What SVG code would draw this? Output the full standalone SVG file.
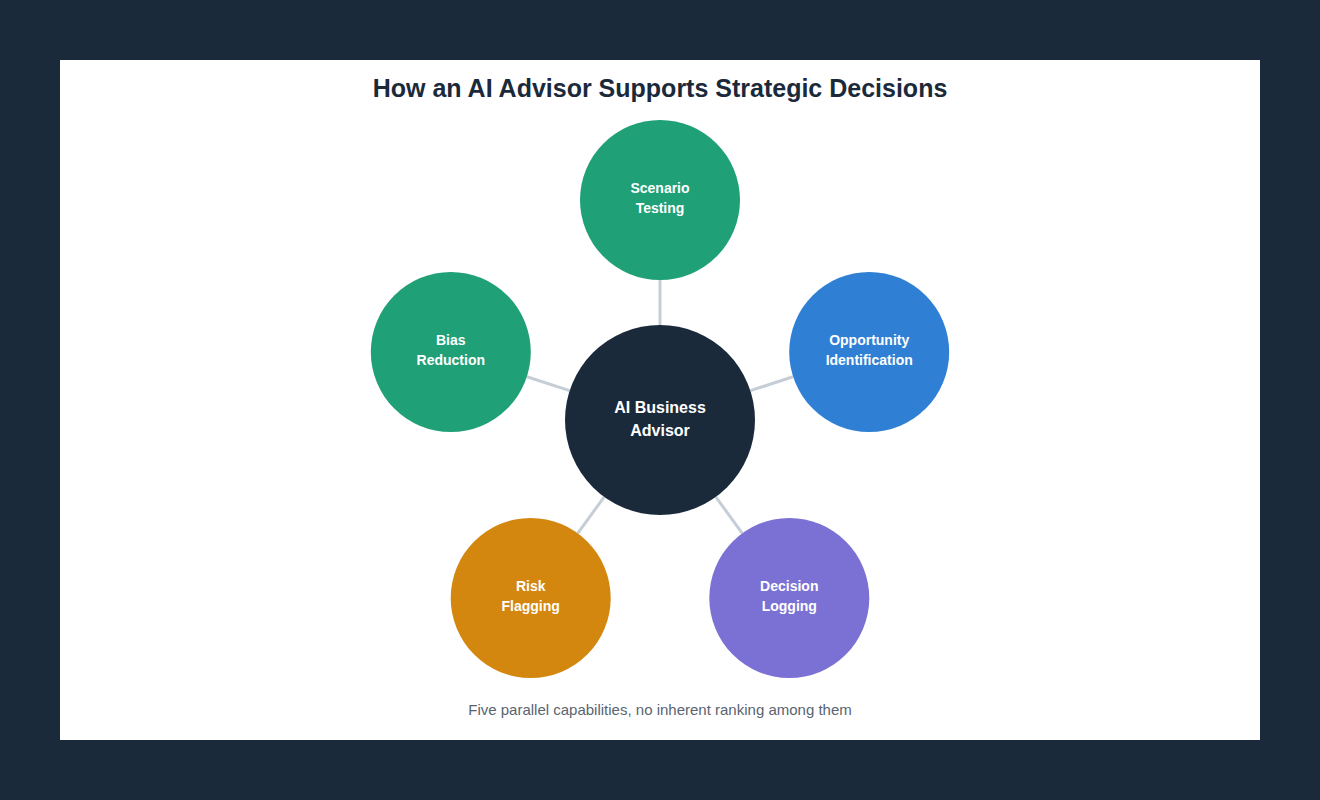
<svg xmlns="http://www.w3.org/2000/svg" width="1320" height="800" viewBox="0 0 1320 800">
<style>
.t{font-family:"Liberation Sans",Arial,sans-serif;font-weight:bold;fill:#fff;text-anchor:middle}
.n{font-size:14px}
.c{font-size:16px}
.conn line{stroke:#c5ced6;stroke-width:3}
</style>
<rect width="1320" height="800" fill="#1b2a3b"/>
<rect x="60" y="60" width="1200" height="680" fill="#fff"/>
<text x="660" y="97" font-family="Liberation Sans,Arial,sans-serif" font-weight="bold" font-size="25" fill="#1b2a3b" text-anchor="middle">How an AI Advisor Supports Strategic Decisions</text>
<g class="conn">
<line x1="660" y1="325" x2="660" y2="280"/>
<line x1="750.4" y1="390.6" x2="793.1" y2="376.7"/>
<line x1="715.8" y1="496.9" x2="742.3" y2="533.3"/>
<line x1="604.2" y1="496.9" x2="577.7" y2="533.3"/>
<line x1="569.6" y1="390.6" x2="526.9" y2="376.7"/>
</g>
<g id="center"><circle cx="660" cy="420" r="95" fill="#1b2a3b"/><text class="t c" x="660" y="413">AI Business</text><text class="t c" x="660" y="436">Advisor</text></g>
<g id="scenario"><circle cx="660" cy="200" r="80" fill="#1fa077"/><text class="t n" x="660" y="193">Scenario</text><text class="t n" x="660" y="213">Testing</text></g>
<g id="opportunity"><circle cx="869.2" cy="352" r="80" fill="#2f7fd4"/><text class="t n" x="869.2" y="345">Opportunity</text><text class="t n" x="869.2" y="365">Identification</text></g>
<g id="decision"><circle cx="789.3" cy="598" r="80" fill="#7b71d4"/><text class="t n" x="789.3" y="591">Decision</text><text class="t n" x="789.3" y="611">Logging</text></g>
<g id="risk"><circle cx="530.7" cy="598" r="80" fill="#d4870f"/><text class="t n" x="530.7" y="591">Risk</text><text class="t n" x="530.7" y="611">Flagging</text></g>
<g id="bias"><circle cx="450.8" cy="352" r="80" fill="#1fa077"/><text class="t n" x="450.8" y="345">Bias</text><text class="t n" x="450.8" y="365">Reduction</text></g>
<text x="660" y="715" font-family="Liberation Sans,Arial,sans-serif" font-size="15" fill="#5a6470" text-anchor="middle">Five parallel capabilities, no inherent ranking among them</text>
</svg>
